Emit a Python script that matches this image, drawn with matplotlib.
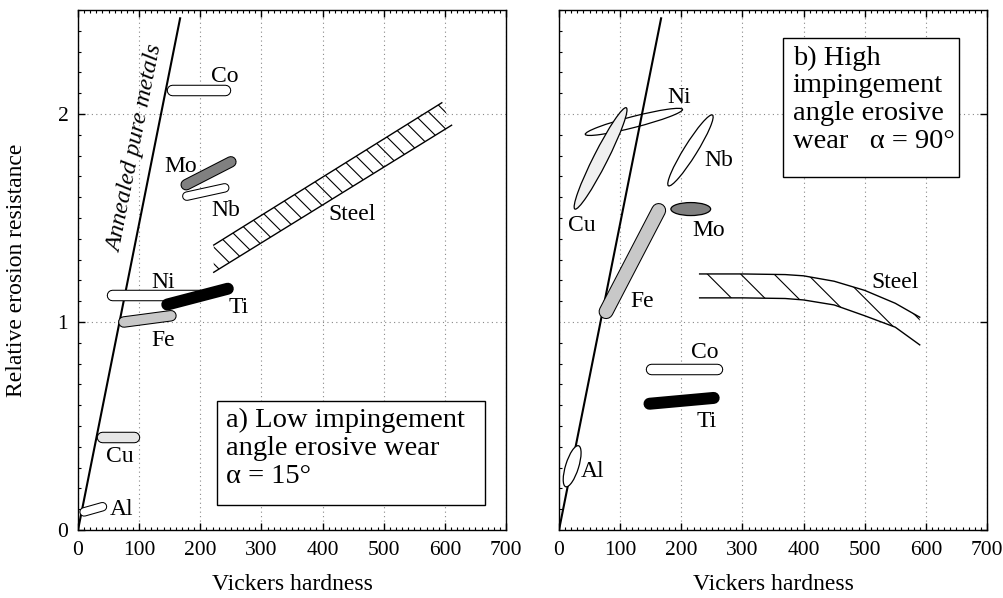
import numpy as np
import matplotlib
matplotlib.use("Agg")
import matplotlib.pyplot as plt
from matplotlib.patches import Ellipse, Rectangle
from matplotlib.ticker import MultipleLocator
import matplotlib.transforms as mtransforms

plt.rcParams['font.family'] = ['Liberation Serif', 'DejaVu Serif']
plt.rcParams['hatch.linewidth'] = 0.8

# ---- data (Vickers hardness, relative erosion resistance) ----
annealed_hv = [0, 167]
annealed_r = [0, 2.46]

# a) low impingement angle - bars: [start, end]
co_a_hv, co_a_r = [153, 240], [2.113, 2.113]
mo_a_hv, mo_a_r = [177, 250], [1.66, 1.77]
nb_a_hv, nb_a_r = [178, 240], [1.605, 1.645]
ni_a_hv, ni_a_r = [55, 200], [1.13, 1.13]
ti_a_hv, ti_a_r = [146, 245], [1.084, 1.16]
fe_a_hv, fe_a_r = [75, 152], [1.0, 1.03]
cu_a_hv, cu_a_r = [39, 91], [0.447, 0.447]
al_a_hv, al_a_r = [10, 40], [0.087, 0.112]
steel_a_hv_up, steel_a_up = [222, 595], [1.37, 2.054]
steel_a_hv_lo, steel_a_lo = [222, 611], [1.239, 1.946]

# b) high impingement angle - ellipses / bars: [tip 1, tip 2]
cu_b_hv, cu_b_r = [26, 110], [1.543, 2.03]
ni_b_hv, ni_b_r = [43, 202], [1.902, 2.022]
nb_b_hv, nb_b_r = [179, 251], [1.655, 1.995]
mo_b_hv, mo_b_r = [183, 248], [1.543, 1.543]
al_b_hv, al_b_r = [11, 32], [0.208, 0.405]
fe_b_hv, fe_b_r = [77, 163], [1.05, 1.536]
co_b_hv, co_b_r = [150, 259], [0.775, 0.775]
ti_b_hv, ti_b_r = [148, 253], [0.607, 0.635]
steel_b_hv = [230, 300, 370, 400, 450, 500, 550, 590]
steel_b_up = [1.231, 1.231, 1.228, 1.222, 1.196, 1.152, 1.09, 1.023]
steel_b_lo = [1.116, 1.116, 1.113, 1.106, 1.082, 1.03, 0.975, 0.89]

FIG_W, FIG_H = 1004, 598
AX_W, AX_H = 428, 520
SX = AX_W / 700.0   # px per hardness unit
SY = AX_H / 2.5     # px per resistance unit
R = SY / SX

fig = plt.figure(figsize=(FIG_W / 100, FIG_H / 100), dpi=100)
ax_a = fig.add_axes([78 / FIG_W, 68 / FIG_H, AX_W / FIG_W, AX_H / FIG_H])
ax_b = fig.add_axes([559 / FIG_W, 68 / FIG_H, AX_W / FIG_W, AX_H / FIG_H])


def capsule(ax, xs, ys, px, fill, z):
    lw = px * 0.72
    ax.plot(xs, ys, color='black', lw=lw, solid_capstyle='round', zorder=z)
    ax.plot(xs, ys, color=fill, lw=lw - 1.5, solid_capstyle='round', zorder=z + 0.01)


def ellipse(ax, xs, ys, px, fill, z):
    cx = (xs[0] + xs[1]) / 2
    cy = (ys[0] + ys[1]) / 2 * R
    dx = xs[1] - xs[0]
    dy = (ys[1] - ys[0]) * R
    iso = mtransforms.Affine2D().scale(1, 1 / R) + ax.transData
    e = Ellipse((cx, cy), np.hypot(dx, dy), px / SX, angle=np.degrees(np.arctan2(dy, dx)),
                transform=iso, facecolor=fill, edgecolor='black', lw=0.9, zorder=z)
    ax.add_patch(e)


for ax in (ax_a, ax_b):
    ax.set_xlim(0, 700)
    ax.set_ylim(0, 2.5)
    ax.set_xticks(range(0, 701, 100))
    ax.set_yticks([0, 1, 2])
    ax.xaxis.set_minor_locator(MultipleLocator(10))
    ax.yaxis.set_minor_locator(MultipleLocator(0.1))
    ax.tick_params(which='both', direction='in', top=True, labelsize=15.5)
    ax.tick_params(which='major', length=5, width=1)
    ax.tick_params(which='minor', length=2.5, width=0.8)
    ax.tick_params(axis='x', pad=8)
    ax.grid(True, which='major', linestyle=(0, (1, 3)), color='#888888', lw=0.8)
    ax.set_axisbelow(True)
    for s in ax.spines.values():
        s.set_linewidth(1.0)
    ax.set_xlabel('Vickers hardness', fontsize=17)
    ax.xaxis.set_label_coords(0.5, -0.085)
    ax.plot(annealed_hv, annealed_r, color='black', lw=1.5, zorder=3)

ax_a.tick_params(axis='y', right=False, left=True, pad=7)
ax_b.tick_params(axis='y', left=False, right=True, labelleft=False)
ax_a.set_ylabel('Relative erosion resistance', fontsize=17)
ax_a.yaxis.set_label_coords(-0.119, 0.5)

lab = dict(fontsize=17, ha='center', va='center', zorder=6)

# ---- panel a ----
ang = np.degrees(np.arctan2(annealed_r[1] * SY, annealed_hv[1] * SX))
ax_a.text(95, 1.832, 'Annealed pure metals', rotation=ang, style='italic',
          fontsize=17.5, ha='center', va='center', rotation_mode='anchor')

capsule(ax_a, co_a_hv, co_a_r, 11.5, 'white', 4)
capsule(ax_a, nb_a_hv, nb_a_r, 9.5, 'white', 4)
capsule(ax_a, mo_a_hv, mo_a_r, 11.5, '#808080', 4.2)
capsule(ax_a, ni_a_hv, ni_a_r, 11.5, 'white', 4)
capsule(ax_a, ti_a_hv, ti_a_r, 12, 'black', 4.2)
capsule(ax_a, fe_a_hv, fe_a_r, 11.5, '#c8c8c8', 4)
capsule(ax_a, cu_a_hv, cu_a_r, 11.5, '#e6e6e6', 4)
capsule(ax_a, al_a_hv, al_a_r, 9.5, 'white', 4)

ax_a.fill(steel_a_hv_up + steel_a_hv_lo[::-1], steel_a_up + steel_a_lo[::-1],
          facecolor='none', edgecolor='black', lw=0, hatch='\\\\', zorder=2)
ax_a.plot(steel_a_hv_up, steel_a_up, color='black', lw=1, zorder=2)
ax_a.plot(steel_a_hv_lo, steel_a_lo, color='black', lw=1, zorder=2)

ax_a.text(240, 2.18, 'Co', **lab)
ax_a.text(168, 1.75, 'Mo', **lab)
ax_a.text(241, 1.535, 'Nb', **lab)
ax_a.text(448, 1.518, 'Steel', **lab)
ax_a.text(140, 1.19, 'Ni', **lab)
ax_a.text(262, 1.072, 'Ti', **lab)
ax_a.text(139, 0.911, 'Fe', **lab)
ax_a.text(68, 0.352, 'Cu', **lab)
ax_a.text(72, 0.1, 'Al', **lab)

ax_a.add_patch(Rectangle((227, 0.12), 438, 0.5, facecolor='white', edgecolor='black',
                         lw=1, zorder=5))
ax_a.text(242, 0.585, 'a) Low impingement\nangle erosive wear\nα = 15°',
          fontsize=20.5, ha='left', va='top', linespacing=1.15, zorder=6)

# ---- panel b ----
ellipse(ax_b, ni_b_hv, ni_b_r, 11, 'white', 2)
ellipse(ax_b, cu_b_hv, cu_b_r, 14, '#f0f0f0', 4)
ellipse(ax_b, nb_b_hv, nb_b_r, 13, 'white', 4)
ellipse(ax_b, mo_b_hv, mo_b_r, 13, '#808080', 4)
ellipse(ax_b, al_b_hv, al_b_r, 13, 'white', 4)
capsule(ax_b, fe_b_hv, fe_b_r, 15, '#c8c8c8', 4)
capsule(ax_b, co_b_hv, co_b_r, 11.5, 'white', 4)
capsule(ax_b, ti_b_hv, ti_b_r, 12, 'black', 4)

ax_b.fill_between(steel_b_hv, steel_b_lo, steel_b_up, facecolor='none',
                  edgecolor='black', lw=0, hatch='\\', zorder=2)
ax_b.plot(steel_b_hv, steel_b_up, color='black', lw=1, zorder=2)
ax_b.plot(steel_b_hv, steel_b_lo, color='black', lw=1, zorder=2)

ax_b.text(196, 2.08, 'Ni', **lab)
ax_b.text(262, 1.778, 'Nb', **lab)
ax_b.text(37, 1.463, 'Cu', **lab)
ax_b.text(245, 1.44, 'Mo', **lab)
ax_b.text(136, 1.1, 'Fe', **lab)
ax_b.text(550, 1.188, 'Steel', **lab)
ax_b.text(239, 0.855, 'Co', **lab)
ax_b.text(241, 0.524, 'Ti', **lab)
ax_b.text(55, 0.28, 'Al', **lab)

ax_b.add_patch(Rectangle((367, 1.698), 288, 0.668, facecolor='white', edgecolor='black',
                         lw=1, zorder=5))
ax_b.text(382, 2.33, 'b) High\nimpingement\nangle erosive\nwear   α = 90°',
          fontsize=20.5, ha='left', va='top', linespacing=1.15, zorder=6)

fig.savefig('out.png', dpi=100)
